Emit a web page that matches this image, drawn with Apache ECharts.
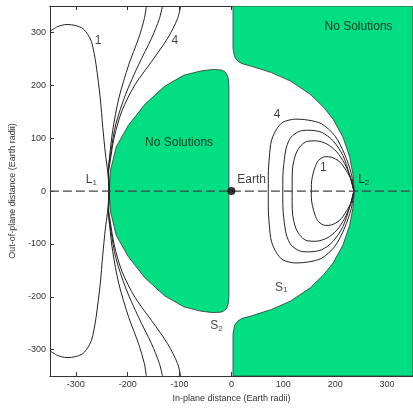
<!DOCTYPE html>
<html>
<head>
<meta charset="utf-8">
<script src="https://cdn.jsdelivr.net/npm/echarts@6/dist/echarts.min.js"></script>
<style>
    html, body { margin: 0; padding: 0; background: #fff; }
    #chart { width: 413px; height: 408px; }
</style>
</head>
<body>
<div id="chart"></div>
<script>
    // tick labels
    let xTicks = [-300, -200, -100, 0, 100, 200, 300];
    let yTicks = [-300, -200, -100, 0, 100, 200, 300];

    // "No Solutions" regions, upper halves (mirrored below y = 0)
    let leftNoSolUpper = [[-236, 0], [-233, 40], [-222, 84], [-199, 124], [-167, 164], [-129, 198],
        [-92, 219], [-60, 227], [-36, 230], [-20, 229], [-13, 226], [-9, 221], [-6, 212], [-5, 200], [-5, 0]];
    let rightNoSolUpper = [[3, 350], [3, 270], [6, 254], [12, 246], [20, 241], [39, 236], [77, 224],
        [114, 208], [152, 183], [178, 158], [196, 136], [215, 102], [228, 64], [234, 33], [237, 0]];
    let frameRight = [[350, -350], [350, 350]];

    // curves through L1, upper halves
    let curve1Upper = [[-350, 302], [-335, 311], [-317, 315], [-300, 313], [-286, 307], [-277, 296],
        [-270, 283], [-265, 262], [-261, 239], [-253, 176], [-248, 120], [-243, 70], [-239, 40], [-236, 0]];
    let curve2Upper = [[-164, 350], [-168, 326], [-179, 289], [-198, 239], [-217, 176], [-229, 114],
        [-235, 64], [-237, 40], [-236, 0]];
    let curve3Upper = [[-133, 350], [-139, 326], [-154, 289], [-179, 239], [-204, 183], [-223, 126],
        [-232, 77], [-237, 40], [-236, 0]];
    let curve4Upper = [[-98, 350], [-104, 326], [-123, 289], [-154, 245], [-186, 201], [-211, 152],
        [-226, 102], [-234, 55], [-237, 35], [-236, 0]];

    // loops through L2, upper halves
    let loop1Upper = [[236, 0], [231, 21], [221, 39], [209, 55], [193, 64], [181, 65], [168, 58],
        [161, 45], [156, 27], [154, 12], [154, 0]];
    let loop2Upper = [[236, 0], [229, 27], [218, 52], [203, 74], [184, 89], [162, 95], [146, 94],
        [134, 86], [124, 70], [118, 45], [117, 20], [117, 0]];
    let loop3Upper = [[236, 0], [227, 33], [215, 67], [196, 95], [174, 111], [149, 115], [131, 113],
        [115, 102], [106, 83], [101, 52], [99, 25], [99, 0]];
    let loop4Upper = [[236, 0], [231, 33], [218, 70], [199, 105], [174, 127], [149, 134], [124, 136],
        [99, 130], [87, 117], [77, 95], [73, 64], [71, 30], [71, 0]];

    let earth = [[0, 0]];
    let axisLine = [[-350, 0], [350, 0]];

    // text labels
    let notes = [
        [-257, 284, '1'], [-109, 284, '4'], [88, 145, '4'], [177, 44, '1'],
        [-101, 91, 'No Solutions'], [245, 311, 'No Solutions'],
        [-270, 22, 'L{s|1}'], [255, 21, 'L{s|2}'], [39, 22, 'Earth'],
        [96, -182, 'S{s|1}'], [-29, -255, 'S{s|2}']
    ];

    let GREEN = '#02de82';
    let FONT = 'Liberation Sans, Arial, sans-serif';

    function mirror(upper) {
        let lower = upper.slice(0, -1).reverse().map((p) => [p[0], -p[1]]);
        return upper.concat(lower);
    }

    function polygon(points) {
        return {
            type: 'custom',
            coordinateSystem: 'cartesian2d',
            clip: true,
            silent: true,
            z: 1,
            data: points,
            encode: {x: 0, y: 1},
            renderItem: function (params, api) {
                if (params.dataIndex !== 0) return;
                return {
                    type: 'polygon',
                    shape: {points: points.map((p) => api.coord(p))},
                    style: {fill: GREEN, stroke: '#333', lineWidth: 0.8}
                };
            }
        };
    }

    function curve(points) {
        return {
            type: 'line',
            data: points,
            showSymbol: false,
            smooth: 0.3,
            silent: true,
            z: 3,
            lineStyle: {color: '#222', width: 1}
        };
    }

    let myChart = echarts.init(document.getElementById('chart'));

    let tickStyle = {show: true, inside: true, length: 4, lineStyle: {color: '#333'}};
    let lineStyle = {show: true, onZero: false, lineStyle: {color: '#333', width: 1}};
    let labelStyle = {color: '#333', fontSize: 9, fontFamily: FONT, margin: 4};

    let option = {
        animation: false,
        backgroundColor: '#fff',
        grid: {left: 41.6, top: 6, width: 373.3, height: 376.7},
        xAxis: [{
            type: 'value', min: -350, max: 350, position: 'bottom',
            axisLine: lineStyle,
            axisTick: Object.assign({customValues: xTicks}, tickStyle),
            axisLabel: Object.assign({customValues: xTicks}, labelStyle),
            splitLine: {show: false},
            name: 'In-plane distance (Earth radii)',
            nameLocation: 'middle', nameGap: 16,
            nameTextStyle: {color: '#333', fontSize: 9, fontFamily: FONT}
        }, {
            type: 'value', min: -350, max: 350, position: 'top',
            axisLine: lineStyle,
            axisTick: Object.assign({customValues: xTicks}, tickStyle),
            axisLabel: {show: false},
            splitLine: {show: false}
        }],
        yAxis: [{
            type: 'value', min: -350, max: 350, position: 'left',
            axisLine: lineStyle,
            axisTick: Object.assign({customValues: yTicks}, tickStyle),
            axisLabel: Object.assign({customValues: yTicks}, labelStyle),
            splitLine: {show: false},
            name: 'Out-of-plane distance (Earth radii)',
            nameLocation: 'middle', nameGap: 26, nameRotate: 90,
            nameTextStyle: {color: '#333', fontSize: 9, fontFamily: FONT}
        }, {
            type: 'value', min: -350, max: 350, position: 'right',
            axisLine: lineStyle,
            axisTick: Object.assign({customValues: yTicks}, tickStyle),
            axisLabel: {show: false},
            splitLine: {show: false}
        }],
        series: [
            polygon(mirror(leftNoSolUpper)),
            polygon(mirror(rightNoSolUpper).concat(frameRight)),
            curve(mirror(curve1Upper)),
            curve(mirror(curve2Upper)),
            curve(mirror(curve3Upper)),
            curve(mirror(curve4Upper)),
            curve(mirror(loop1Upper)),
            curve(mirror(loop2Upper)),
            curve(mirror(loop3Upper)),
            curve(mirror(loop4Upper)),
            {
                type: 'line',
                data: axisLine,
                showSymbol: false,
                silent: true,
                z: 4,
                lineStyle: {color: '#444', width: 1.2, type: [9, 4]}
            },
            {
                type: 'scatter',
                data: earth,
                symbolSize: 8,
                silent: true,
                z: 5,
                itemStyle: {color: '#000'}
            },
            {
                type: 'scatter',
                data: notes,
                symbolSize: 0,
                silent: true,
                z: 6,
                label: {
                    show: true,
                    position: 'inside',
                    formatter: (p) => p.data[2],
                    color: '#111',
                    fontSize: 12,
                    fontFamily: FONT,
                    rich: {s: {fontSize: 8, fontFamily: FONT, color: '#111', verticalAlign: 'bottom', padding: [6, 0, 0, 0]}}
                }
            }
        ]
    };
    myChart.setOption(option);
</script>
</body>
</html>
